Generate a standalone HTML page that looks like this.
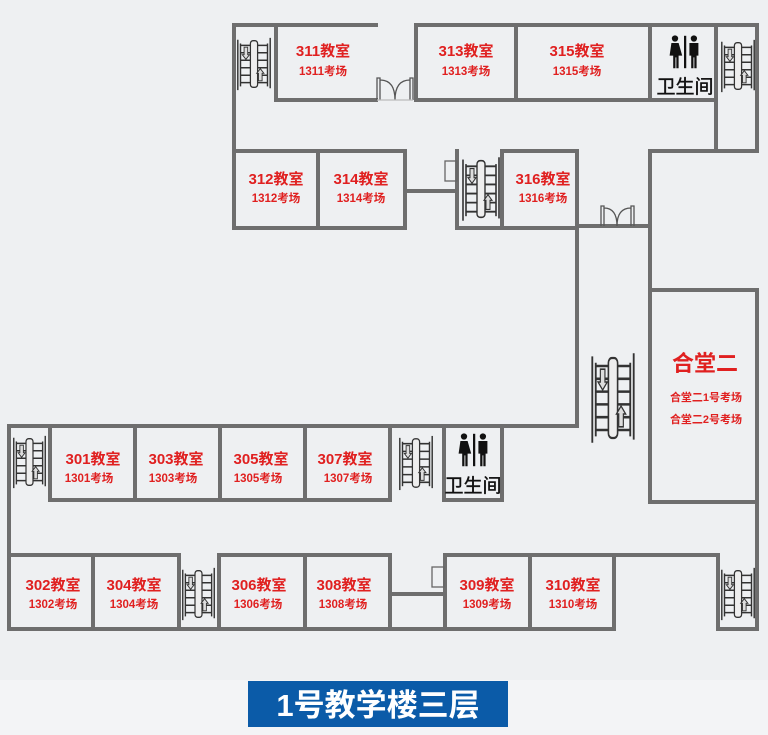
<!DOCTYPE html>
<html><head><meta charset="utf-8"><style>
html,body{margin:0;padding:0;}
body{width:768px;height:735px;background:#f3f4f6;overflow:hidden;font-family:"Liberation Sans","Noto Sans CJK SC",sans-serif;}
svg{display:block}
</style></head><body>
<svg width="768" height="735" viewBox="0 0 768 735" xmlns="http://www.w3.org/2000/svg">
<defs>
<symbol id="st" viewBox="0 0 40 60" preserveAspectRatio="none">
<g fill="none" stroke="#333" stroke-width="1.6">
<line x1="2" y1="4" x2="2" y2="58"/><line x1="38" y1="2" x2="38" y2="56"/>
<line x1="5" y1="8" x2="5" y2="54"/><line x1="35" y1="8" x2="35" y2="54"/>
<line x1="5" y1="10" x2="35" y2="10"/><line x1="5" y1="18" x2="35" y2="18"/><line x1="5" y1="26" x2="35" y2="26"/><line x1="5" y1="34" x2="35" y2="34"/><line x1="5" y1="42" x2="35" y2="42"/><line x1="5" y1="50" x2="35" y2="50"/>
</g>
<rect x="16" y="5" width="8" height="50" rx="3" fill="#eee" stroke="#333" stroke-width="1.4"/>
<path d="M9 12h4v8h2l-4 5-4-5h2z" fill="#ddd" stroke="#333" stroke-width="1"/>
<path d="M29 48h-4v-8h-2l4-5 4 5h-2z" fill="#ddd" stroke="#333" stroke-width="1"/>
</symbol>
<symbol id="wc" viewBox="0 0 40 40">
<g fill="#111">
<circle cx="10" cy="5" r="3.5"/><path d="M6 10h8l4 14h-4l0 14h-2.5v-12h-1v12h-2.5l0-14h-4z"/>
<rect x="20" y="2" width="2.5" height="36"/>
<circle cx="31" cy="5" r="3.5"/><path d="M26 10h10v14h-2v14h-2.5v-12h-1v12h-2.5v-14h-2z"/>
</g>
</symbol>
</defs>
<rect x="0" y="0" width="768" height="680" fill="#eef0f2"/>
<g fill="none" stroke="#6e6e6e" stroke-width="4" stroke-linecap="square">
<path d="M376 25H234V228H405"/>
<path d="M416 25H757V151H650V290"/>
<path d="M276 25V100H376"/>
<path d="M416 25V100H716V25"/>
<line x1="516" y1="25" x2="516" y2="100"/>
<line x1="650" y1="25" x2="650" y2="100"/>
<line x1="716" y1="100" x2="716" y2="151"/>
<path d="M234 151H405V228"/>
<line x1="318" y1="151" x2="318" y2="228"/>
<path d="M405 191H457"/>
<path d="M457 151V228H577"/>
<path d="M502 151H577V228"/>
<line x1="502" y1="151" x2="502" y2="228"/>
<line x1="577" y1="226" x2="650" y2="226"/>
<line x1="577" y1="228" x2="577" y2="426"/>
<path d="M650 290H757V629H718V555H614"/>
<path d="M650 290V502H757"/>
<path d="M577 426H9V629H614V555H445V629"/>
<path d="M50 426V500H390"/>
<line x1="135" y1="426" x2="135" y2="500"/>
<line x1="220" y1="426" x2="220" y2="500"/>
<line x1="305" y1="426" x2="305" y2="500"/>
<line x1="390" y1="426" x2="390" y2="500"/>
<path d="M444 426V500H502V426"/>
<path d="M9 555H179V629"/>
<line x1="93" y1="555" x2="93" y2="629"/>
<path d="M219 629V555H390V629"/>
<line x1="305" y1="555" x2="305" y2="629"/>
<line x1="390" y1="594" x2="445" y2="594"/>
<line x1="530" y1="555" x2="530" y2="629"/>
</g>
<g fill="none" stroke="#555" stroke-width="1.3">
<path d="M377 100V78H380V100M413 100V78H410V100M380 80Q395 80 395 100M410 80Q395 80 395 100"/>
<path d="M377 100H413" stroke="#bbb"/>
<path d="M601 226V206H604V226M634 226V206H631V226M604 208Q617 208 617 226M631 208Q617 208 617 226"/>
<rect x="445" y="161" width="12" height="20" stroke="#666"/>
<rect x="432" y="567" width="12" height="20" stroke="#666"/>
</g>
<use href="#st" x="236" y="36" width="36" height="56"/>
<use href="#st" x="720" y="38" width="36" height="56"/>
<use href="#st" x="461" y="155" width="40" height="68"/>
<use href="#st" x="12" y="434" width="35" height="56"/>
<use href="#st" x="398" y="434" width="36" height="58"/>
<use href="#st" x="181" y="566" width="35" height="56"/>
<use href="#st" x="720" y="566" width="36" height="56"/>
<use href="#st" x="590" y="350" width="46" height="96"/>
<use href="#wc" x="666" y="34" width="36" height="36"/>
<use href="#wc" x="455" y="432" width="36" height="36"/>
<g font-family="Liberation Sans,Noto Sans CJK SC,sans-serif" font-size="19" fill="#111" text-anchor="middle" stroke="#111" stroke-width="0.4">
<text x="685" y="93">卫生间</text>
<text x="473" y="492">卫生间</text>
</g>
<g fill="#e02020" font-weight="bold" text-anchor="middle" font-family="Liberation Sans,Noto Sans CJK SC,sans-serif">
<g font-size="15">
<text x="323" y="56">311教室</text><text x="466" y="56">313教室</text><text x="577" y="56">315教室</text>
<text x="276" y="184">312教室</text><text x="361" y="184">314教室</text><text x="543" y="184">316教室</text>
<text x="93" y="464">301教室</text><text x="176" y="464">303教室</text><text x="261" y="464">305教室</text><text x="345" y="464">307教室</text>
<text x="53" y="590">302教室</text><text x="134" y="590">304教室</text><text x="259" y="590">306教室</text><text x="344" y="590">308教室</text>
<text x="487" y="590">309教室</text><text x="573" y="590">310教室</text>
</g>
<g font-size="11.5">
<text x="323" y="75">1311考场</text><text x="466" y="75">1313考场</text><text x="577" y="75">1315考场</text>
<text x="276" y="202">1312考场</text><text x="361" y="202">1314考场</text><text x="543" y="202">1316考场</text>
<text x="89" y="482">1301考场</text><text x="173" y="482">1303考场</text><text x="258" y="482">1305考场</text><text x="348" y="482">1307考场</text>
<text x="53" y="608">1302考场</text><text x="134" y="608">1304考场</text><text x="258" y="608">1306考场</text><text x="343" y="608">1308考场</text>
<text x="487" y="608">1309考场</text><text x="573" y="608">1310考场</text>
</g>
<g font-size="11">
<text x="706" y="401">合堂二1号考场</text><text x="706" y="423">合堂二2号考场</text>
</g>
<text x="705" y="371" font-size="22">合堂二</text>
</g>
<rect x="248" y="681" width="260" height="46" fill="#0b5ba8"/>
<text x="378" y="716" font-size="31" font-weight="bold" fill="#fff" text-anchor="middle" font-family="Liberation Sans,Noto Sans CJK SC,sans-serif">1号教学楼三层</text>
</svg>
</body></html>
